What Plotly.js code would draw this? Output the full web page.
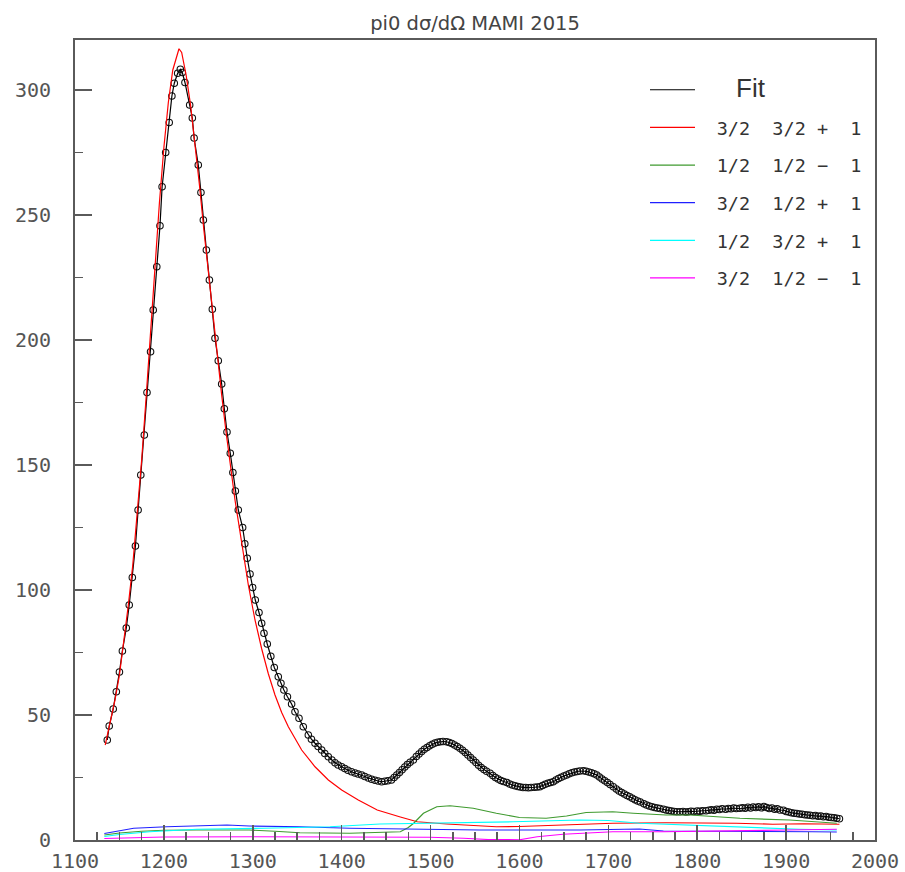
<!DOCTYPE html>
<html>
<head>
<meta charset="utf-8">
<script src="https://cdn.plot.ly/plotly-3.0.1.min.js"></script>
<style>html,body{margin:0;padding:0;background:#fff;}#chart{width:905px;height:872px;}</style>
</head>
<body>
<div id="chart"></div>
<script>
// ---- Data: pi0 total cross section (MAMI 2015) vs W [MeV] ----
const dataW = [1136.3,1138.5,1143,1146.5,1150,1153.3,1157.7,1161,1164.5,1168,1171,1174,1178,1181,1185,1188,1192,1195.6,1198,1202,1206,1209,1211.7,1215.5,1218.5,1220.7,1223.7,1229,1232,1234,1238.7,1241.7,1244.4,1247.8,1251.2,1254.5,1257.5,1261.2,1265,1268,1271,1274.7,1277.6,1280.4,1283.7,1288.6,1291,1293.8,1296.9,1299.9,1302.8,1307,1310,1312.6,1316.3,1320.3,1324.2,1328.7,1331.7,1335,1339,1343.7,1347.5,1352,1356.8,1362.5,1366,1370,1373.5,1377.5,1381,1385,1389,1392.5,1396,1400,1403.5,1407,1411,1415,1418.5,1422.5,1426,1430,1433.7,1437.5,1441,1445,1448.5,1452,1456,1459,1462,1465,1468,1471,1474,1477,1480.6,1484,1487,1490,1493,1496,1499,1502,1505,1508,1511,1514,1518,1521,1524,1527,1530,1533,1536,1539,1542,1545,1548,1551,1554,1557,1560,1563,1567,1570,1573,1576,1579,1582,1585.7,1589,1592,1595,1598,1601,1604,1607,1610,1613,1617,1620,1623,1626,1629,1632,1635,1638,1641,1644,1647,1650,1653,1656,1659,1662,1665,1668,1672,1675,1678,1681,1684,1687,1690,1693,1696,1699,1702,1705.6,1709,1712,1715,1718,1721,1724,1727,1730,1733,1736,1740,1743,1746,1749,1752,1755,1758,1762,1765,1768,1771,1774,1777,1780.6,1784,1787,1790,1793,1796,1800,1803,1806,1810,1813,1816,1819,1822,1825,1828,1832,1835,1838,1841,1844,1848,1851,1854,1857,1860,1863,1866,1869,1872,1875,1878,1881,1884,1887,1890,1893,1897,1900,1903,1906,1909,1912,1915,1918,1921,1924,1927,1930,1933,1936,1939,1942,1945,1948,1951,1954,1957,1960];
const dataSigma = [40,45.6,52.4,59.3,67.2,75.6,84.8,94,105,117.6,132,146,162,179,195.3,212,229.3,245.7,261.3,275,287,297.6,302.7,306.7,308.3,307,303,294,288.8,280.8,270,259,248,236,224,212.3,200.7,191.7,182.4,172.5,163.2,154.7,147,139.6,132,125,118.5,112.7,106.4,101,96,91,86.7,82.7,78.4,73.5,69,65.3,62.7,60,57.3,54.4,51.3,48.7,45.3,42,40.3,38.7,37.4,36,34.6,33.3,32,30.9,30,29.3,28.6,27.9,27.3,26.8,26.4,26,25.4,24.8,24.3,23.9,23.6,23.3,23.5,23.7,24,25,26,27,28.1,29.2,30.2,31.1,32,33.4,34.4,35.4,36.3,37,37.7,38.3,38.8,39.1,39.3,39.4,39.3,39,38.6,38,37.4,36.7,35.9,35,34,33,32,31,29.9,29,28.2,27.5,26.7,25.8,25,24.4,23.8,23.4,23,22.4,22,21.7,21.4,21.2,21,21,20.9,21,21.1,21.2,21.3,21.8,22.3,22.7,23,23.3,24,24.6,25.1,25.6,26,26.5,26.9,27.2,27.4,27.6,27.7,27.5,27.2,26.9,26.5,26,25.2,24.4,23.7,23,22.2,21.3,20.4,19.6,19,18.4,17.8,17.3,16.7,16.1,15.6,15.2,14.5,14,13.6,13.3,13,12.8,12.6,12.3,12,11.8,11.6,11.4,11.3,11.3,11.4,11.2,11.3,11.5,11.4,11.6,11.5,11.7,11.7,11.9,12.1,11.9,12.3,12.2,12.5,12.3,12.6,12.5,12.8,12.6,12.7,12.9,12.7,13.1,12.8,13.2,13,13.3,12.9,13.4,13,12.6,12.8,12.3,12.5,12,11.9,11.4,11.2,10.9,10.7,10.6,10.4,10.3,10.1,10,9.9,9.7,9.8,9.5,9.6,9.3,9.4,9.1,9,8.9,8.7,8.5];

// Partial-wave contributions
const redW = [1134,1140,1145,1150,1155,1160,1165,1170,1175,1180,1185,1190,1195,1200,1205,1210,1217,1220,1225,1230,1235,1240,1245,1250,1255,1260,1265,1270,1275,1280,1287.5,1295,1302.5,1310,1317.5,1325,1332.5,1340,1355,1370,1385,1400,1418.7,1440,1466,1485,1518,1550,1574,1600,1630,1670,1705,1765,1800,1844,1885,1920,1960];
const redSigma = [38,48,56,66,79,94,110,130,152,177,203,230,255,277,295,308,316.5,315,306,294,279,262,244,227,210,194,178,163,149,136,119,102,88,76.5,66.5,58,51,45.3,36,29.3,24,20,16,12,9.2,7.3,6.4,5.8,5.3,5.4,5.7,6.2,6.7,6.9,6.9,6.7,6.3,6.5,6.3];

const greenW = [1133,1150,1175,1200,1237,1296,1325,1353,1409,1443,1466,1475,1481,1492,1507,1522,1535,1548,1574,1600,1630,1653,1675,1705,1728,1765,1792,1848,1904,1957];
const greenSigma = [2,2.8,3.5,3.9,4,4,3.5,2.9,2.7,2.9,3.3,5,6.7,10.7,13.3,13.7,13.3,12.7,10.7,9,8.7,9.6,11,11.3,10.7,10,10,8.7,8,6.7];

const blueW = [1133,1150,1166,1203,1271,1296,1353,1409,1443,1466,1555,1668,1735,1762,1856,1930,1957];
const blueSigma = [2.6,3.8,4.7,5.3,6,5.6,5.3,4.7,4.6,4.4,4,4,4.4,3.6,3.6,3.3,3.2];

const cyanW = [1133,1150,1184,1237,1312,1387,1443,1466,1518,1593,1668,1700,1735,1810,1848,1915,1957];
const cyanSigma = [1.4,2.2,3.3,4.3,4.7,5.3,6.4,6.5,6.9,7.3,8,7.8,6.7,5.6,5.1,4.3,4];

const magentaW = [1133,1200,1300,1400,1499,1537,1565,1600,1620,1649,1705,1762,1848,1900,1957];
const magentaSigma = [0.6,1.2,1.3,1.3,1.1,0.7,0.2,0.1,1.3,2.3,3.3,3.3,3.6,4,4.3];

const seriesNames = ['3/2&nbsp;&nbsp;3/2&nbsp;+&nbsp;&nbsp;1','1/2&nbsp;&nbsp;1/2&nbsp;\u2212&nbsp;&nbsp;1','3/2&nbsp;&nbsp;1/2&nbsp;+&nbsp;&nbsp;1','1/2&nbsp;&nbsp;3/2&nbsp;+&nbsp;&nbsp;1','3/2&nbsp;&nbsp;1/2&nbsp;\u2212&nbsp;&nbsp;1'];
const seriesColors = ['#ff0000','#3f9a2f','#2020ff','#00ffff','#ff00ff'];
const xTicks = [1100,1200,1300,1400,1500,1600,1700,1800,1900,2000];
const yTicks = [0,50,100,150,200,250,300];

const comps = [[redW,redSigma],[greenW,greenSigma],[blueW,blueSigma],[cyanW,cyanSigma],[magentaW,magentaSigma]];

const lead = '<span style="font-family:Liberation Sans;font-size:20px">&nbsp;&nbsp;&nbsp;</span>';
const traces = [
  {x: dataW, y: dataSigma, type: 'scatter', mode: 'markers', name: 'MAMI 2015', showlegend: false,
   marker: {symbol: 'circle-open', size: 6.5, color: '#111', line: {width: 1.1, color: '#111'}}},
  {x: dataW, y: dataSigma, type: 'scatter', mode: 'lines', legendgroup: 'g0',
   name: '<span style="font-family:Liberation Sans;font-size:26px">&nbsp;&nbsp;&nbsp;&nbsp;&nbsp;Fit</span>',
   line: {color: '#000', width: 1.2}}
];
comps.forEach((c, i) => {
  traces.push({x: c[0], y: c[1], type: 'scatter', mode: 'lines', legendgroup: 'g' + (i + 1),
    name: lead + seriesNames[i], line: {color: seriesColors[i], width: 1.2}});
});

const axisCommon = {
  showgrid: false, zeroline: false, showline: true, mirror: true,
  linecolor: '#5a5a5a', linewidth: 2, ticks: 'inside', tickcolor: '#5a5a5a', tickwidth: 1.5,
  tickfont: {family: 'DejaVu Sans Mono', size: 20, color: '#555'}
};

const layout = {
  width: 905, height: 872,
  margin: {l: 75, r: 30, t: 40, b: 32},
  paper_bgcolor: '#fff', plot_bgcolor: '#fff',
  title: {text: 'pi0 d\u03c3/d\u03a9 MAMI 2015', xref: 'container', x: 0.5249, xanchor: 'center',
          yref: 'container', y: 0.9736, yanchor: 'middle',
          font: {family: 'DejaVu Sans', size: 19.5, color: '#444'}},
  xaxis: Object.assign({}, axisCommon, {range: [1100, 2000], tickvals: xTicks, ticktext: xTicks.map(String),
          ticklen: 15, ticklabelstandoff: 2,
          minor: {ticks: 'inside', ticklen: 8, dtick: 25, tick0: 1100, tickcolor: '#5a5a5a', tickwidth: 1.5}}),
  yaxis: Object.assign({}, axisCommon, {range: [0, 320], tickvals: yTicks, ticktext: yTicks.map(String),
          ticklen: 17, ticklabelstandoff: 18,
          minor: {ticks: 'inside', ticklen: 8, dtick: 25, tick0: 0, tickcolor: '#5a5a5a', tickwidth: 1.5}}),
  showlegend: true,
  legend: {x: 0.7125, xanchor: 'left', y: 0.961, yanchor: 'top', bgcolor: 'rgba(0,0,0,0)',
           traceorder: 'grouped', tracegroupgap: 10.6, itemwidth: 45,
           font: {family: 'DejaVu Sans Mono', size: 18.5, color: '#333'}}
};

Plotly.newPlot('chart', traces, layout, {displayModeBar: false, staticPlot: true});
</script>
</body>
</html>
